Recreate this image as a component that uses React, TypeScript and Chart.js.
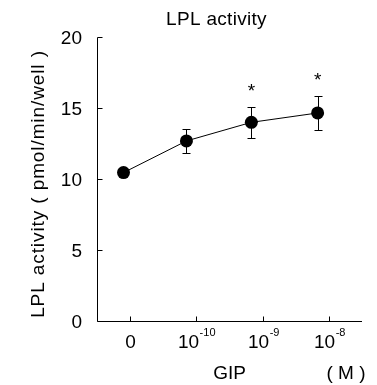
import { useEffect, useRef } from "react";
import { Chart, registerables } from "chart.js";

Chart.register(...registerables);

// ---- data ----
const categoryBases = ["0", "10", "10", "10"];
const categoryExponents = ["", "-10", "-9", "-8"];
const pointPositions = [-0.1, 0.85, 1.83, 2.83];
const meanValues = [10.45, 12.68, 13.99, 14.65];
const errorValues = [0.2, 0.82, 1.1, 1.2];
const significant = [false, false, true, true];
const yTicks = [0, 5, 10, 15, 20];
const chartTitle = "LPL activity";
const yAxisTitle = "LPL activity ( pmol/min/well )";
const xAxisTitle = "GIP";
const xAxisUnit = "( M )";

const FONT = "'Liberation Sans', Arial, sans-serif";

const overlay = {
  id: "overlay",
  beforeDatasetsDraw(chart: any) {
    const ctx = chart.ctx;
    const xs = chart.scales.x;
    const ys = chart.scales.y;
    ctx.save();
    ctx.strokeStyle = "#000";
    ctx.lineWidth = 1;
    meanValues.forEach((m, i) => {
      const px = Math.round(xs.getPixelForValue(pointPositions[i])) + 0.5;
      const top = Math.round(ys.getPixelForValue(m + errorValues[i])) + 0.5;
      const bot = Math.round(ys.getPixelForValue(m - errorValues[i])) + 0.5;
      ctx.beginPath();
      ctx.moveTo(px, top);
      ctx.lineTo(px, bot);
      ctx.moveTo(px - 4, top);
      ctx.lineTo(px + 4, top);
      ctx.moveTo(px - 4, bot);
      ctx.lineTo(px + 4, bot);
      ctx.stroke();
    });
    ctx.restore();
  },
  afterDraw(chart: any) {
    const ctx = chart.ctx;
    const xs = chart.scales.x;
    const ys = chart.scales.y;
    const area = chart.chartArea;
    const L = Math.round(area.left) + 0.5;
    const B = Math.round(area.bottom) + 0.5;
    const T = Math.round(area.top) + 0.5;
    const R = Math.round(area.right);
    ctx.save();
    ctx.strokeStyle = "#000";
    ctx.fillStyle = "#000";
    ctx.lineWidth = 1;
    // axes
    ctx.beginPath();
    ctx.moveTo(L, T);
    ctx.lineTo(L, B);
    ctx.lineTo(R, B);
    ctx.stroke();
    // y ticks (inward)
    ctx.font = `19px ${FONT}`;
    ctx.textAlign = "right";
    ctx.textBaseline = "middle";
    yTicks.forEach((v) => {
      const py = Math.round(ys.getPixelForValue(v)) + 0.5;
      ctx.beginPath();
      ctx.moveTo(L, py);
      ctx.lineTo(L + 5, py);
      ctx.stroke();
      ctx.fillText(String(v), area.left - 15, py + 1);
    });
    // x ticks (inward) and labels
    categoryBases.forEach((base, i) => {
      const px = Math.round(xs.getPixelForValue(i)) + 0.5;
      ctx.beginPath();
      ctx.moveTo(px, B);
      ctx.lineTo(px, B - 5);
      ctx.stroke();
      ctx.textBaseline = "alphabetic";
      ctx.textAlign = "left";
      ctx.font = `19px ${FONT}`;
      const wb = ctx.measureText(base).width;
      ctx.font = `11px ${FONT}`;
      const exp = categoryExponents[i];
      const we = exp ? ctx.measureText(exp).width : 0;
      const start = px - (wb + we) / 2;
      ctx.font = `19px ${FONT}`;
      ctx.fillText(base, start, area.bottom + 27);
      if (exp) {
        ctx.font = `11px ${FONT}`;
        ctx.fillText(exp, start + wb + 0.5, area.bottom + 15);
      }
    });
    // significance marks
    ctx.font = `19px ${FONT}`;
    ctx.textAlign = "center";
    ctx.textBaseline = "alphabetic";
    significant.forEach((s, i) => {
      if (!s) return;
      const px = xs.getPixelForValue(pointPositions[i]);
      const top = ys.getPixelForValue(meanValues[i] + errorValues[i]);
      ctx.fillText("*", px, top - 10);
    });
    // title
    const cx = (area.left + area.right) / 2;
    ctx.font = `19px ${FONT}`;
    (ctx as any).letterSpacing = "0.3px";
    ctx.fillText(chartTitle, cx - 13, area.top - 12);
    (ctx as any).letterSpacing = "0px";
    // x title
    ctx.fillText(xAxisTitle, cx, area.bottom + 58);
    ctx.fillText(xAxisUnit, area.right - 16, area.bottom + 58);
    // y title
    ctx.save();
    ctx.translate(44, (area.top + area.bottom) / 2 + 5);
    ctx.rotate(-Math.PI / 2);
    (ctx as any).letterSpacing = "0.9px";
    ctx.fillText(yAxisTitle, 0, 0);
    ctx.restore();
    ctx.restore();
  },
};

export default function App() {
  const ref = useRef<HTMLCanvasElement | null>(null);
  useEffect(() => {
    document.body.style.margin = "0";
    const chart = new Chart(ref.current as HTMLCanvasElement, {
      type: "scatter",
      data: {
        datasets: [
          {
            data: meanValues.map((v, i) => ({ x: pointPositions[i], y: v })),
            showLine: true,
            borderColor: "#000",
            borderWidth: 1,
            backgroundColor: "#000",
            pointBackgroundColor: "#000",
            pointBorderColor: "#000",
            pointRadius: 6.5,
            pointBorderWidth: 0,
            tension: 0,
          },
        ],
      },
      options: {
        responsive: true,
        maintainAspectRatio: false,
        animation: false,
        layout: { padding: { left: 97, right: 15, top: 37, bottom: 64 } },
        plugins: { legend: { display: false }, tooltip: { enabled: false }, title: { display: false } },
        scales: {
          x: { type: "linear", min: -0.5, max: 3.5, display: false },
          y: { type: "linear", min: 0, max: 20, display: false },
        },
      },
      plugins: [overlay],
    });
    return () => chart.destroy();
  }, []);
  return (
    <div style={{ position: "relative", width: 377, height: 385, background: "#fff" }}>
      <canvas ref={ref} />
    </div>
  );
}
